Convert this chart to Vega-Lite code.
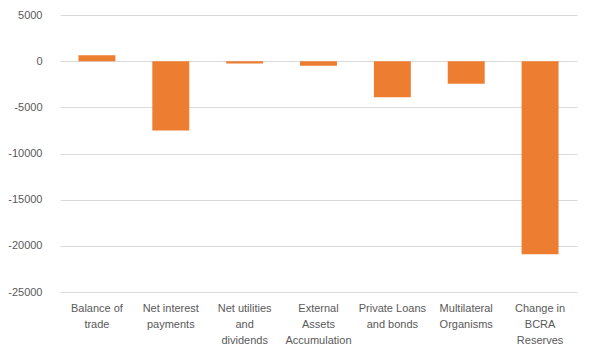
{
  "$schema": "https://vega.github.io/schema/vega-lite/v6.json",
  "autosize": "none",
  "width": 517,
  "height": 277,
  "padding": {"left": 60, "top": 15, "right": 14, "bottom": 64},
  "background": "white",
  "data": {
    "values": [
      {"category": "Balance of|trade", "value": 650},
      {"category": "Net interest|payments", "value": -7500},
      {"category": "Net utilities|and|dividends", "value": -250},
      {"category": "External|Assets|Accumulation", "value": -500},
      {"category": "Private Loans|and bonds", "value": -3900},
      {"category": "Multilateral|Organisms", "value": -2450},
      {"category": "Change in|BCRA|Reserves", "value": -20900}
    ]
  },
  "mark": {"type": "bar", "color": "#ED7D31"},
  "encoding": {
    "x": {
      "field": "category",
      "type": "nominal",
      "sort": null,
      "scale": {"paddingInner": 0.5, "paddingOuter": 0.25},
      "axis": {
        "title": null,
        "labelAngle": 0,
        "labelExpr": "split(datum.label, '|')",
        "labelLineHeight": 16,
        "labelPadding": 10,
        "labelBaseline": "top",
        "domain": false,
        "ticks": false,
        "labelFont": "Liberation Sans",
        "labelFontSize": 11,
        "labelColor": "#595959"
      }
    },
    "y": {
      "field": "value",
      "type": "quantitative",
      "scale": {"domain": [-25000, 5000], "nice": false},
      "axis": {
        "title": null,
        "values": [-25000, -20000, -15000, -10000, -5000, 0, 5000],
        "labelExpr": "toString(datum.value)",
        "domain": false,
        "ticks": false,
        "labelPadding": 18,
        "labelFont": "Liberation Sans",
        "labelFontSize": 11,
        "labelColor": "#595959",
        "gridColor": "#d9d9d9",
        "gridWidth": 1
      }
    }
  },
  "config": {"view": {"stroke": null}}
}
